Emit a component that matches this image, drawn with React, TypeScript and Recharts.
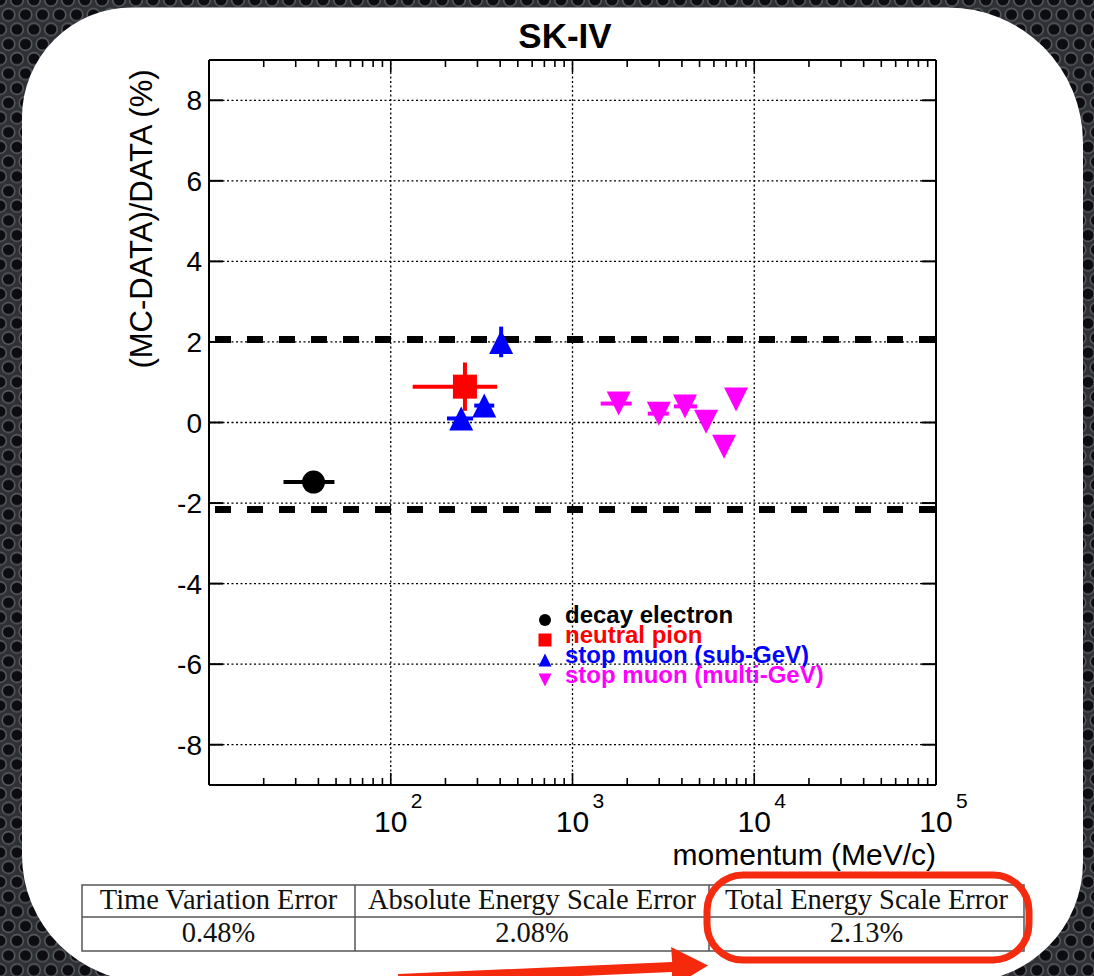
import React from "react";
import {
  ScatterChart,
  Scatter,
  XAxis,
  YAxis,
  ReferenceLine,
  ErrorBar,
  Legend,
  Label,
} from "recharts";

// ---------- data ----------
const decayElectron = [{ p: 37.6, d: -1.48, pErr: [11.9, 11.4], dErr: 0.05 }];
const neutralPion = [{ p: 256, d: 0.89, pErr: [124, 129], dErr: 0.6 }];
const stopMuonSub = [
  { p: 244, d: 0.1, pErr: [40, 40], dErr: 0.1 },
  { p: 327, d: 0.42, pErr: [39, 44], dErr: 0.15 },
  { p: 405, d: 2.0, pErr: [20, 20], dErr: 0.38 },
];
const stopMuonMulti = [
  { p: 1795, d: 0.47, pErr: [366, 323], dErr: 0.1 },
  { p: 2985, d: 0.22, pErr: [391, 403], dErr: 0.1 },
  { p: 4160, d: 0.4, pErr: [546, 682], dErr: 0.1 },
  { p: 5430, d: 0.02, pErr: [300, 300], dErr: 0.1 },
  { p: 6820, d: -0.6, pErr: [350, 350], dErr: 0.15 },
  { p: 7940, d: 0.57, pErr: [350, 350], dErr: 0.1 },
];
const seriesNames = ["decay electron", "neutral pion", "stop muon (sub-GeV)", "stop muon (multi-GeV)"];
const scaleErrorLines = [2.06, -2.16];
const yTicks = [-8, -6, -4, -2, 0, 2, 4, 6, 8];
const xDecades = [10, 100, 1000, 10000, 100000];
const xGridLines = [100, 1000, 10000];
const tableHeaders = ["Time Variation Error", "Absolute Energy Scale Error", "Total Energy Scale Error"];
const tableValues = ["0.48%", "2.08%", "2.13%"];

const xTicks: number[] = [];
xDecades.forEach((d, i) => {
  xTicks.push(d);
  if (i < xDecades.length - 1) for (let m = 2; m <= 9; m++) xTicks.push(d * m);
});

const SANS = "'Liberation Sans', Arial, Helvetica, sans-serif";
const SERIF = "'Liberation Serif', 'Times New Roman', serif";

// ---------- markers ----------
type Kind = "circle" | "square" | "up" | "down";
function marker(kind: Kind, cx: number, cy: number, s: number, color: string) {
  const h = s / 2;
  if (kind === "circle") return <circle cx={cx} cy={cy} r={h} fill={color} />;
  if (kind === "square") return <rect x={cx - h} y={cy - h} width={s} height={s} fill={color} />;
  if (kind === "up")
    return <polygon points={`${cx - h},${cy + h} ${cx + h},${cy + h} ${cx},${cy - h}`} fill={color} />;
  return <polygon points={`${cx - h},${cy - h} ${cx + h},${cy - h} ${cx},${cy + h}`} fill={color} />;
}
const seriesStyle: Record<string, { kind: Kind; color: string; size: number }> = {
  "decay electron": { kind: "circle", color: "#000000", size: 23 },
  "neutral pion": { kind: "square", color: "#ff0000", size: 24 },
  "stop muon (sub-GeV)": { kind: "up", color: "#0000ff", size: 24 },
  "stop muon (multi-GeV)": { kind: "down", color: "#ff00ff", size: 24 },
};
const shapeFor = (name: string) => (props: any) => {
  const st = seriesStyle[name];
  return marker(st.kind, props.cx, props.cy, st.size, st.color);
};

// ---------- ticks ----------
const isDecade = (v: number) => Math.abs(Math.log10(v) - Math.round(Math.log10(v))) < 1e-6;

const BottomTick = (props: any) => {
  const { x, y, payload } = props;
  const v = payload.value;
  const major = isDecade(v);
  const exp = Math.round(Math.log10(v));
  return (
    <g>
      <line x1={x} x2={x} y1={y} y2={y - (major ? 12 : 7)} stroke="#000" strokeWidth={1.6} />
      {major && exp > 1 && (
        <g fontFamily={SANS} fill="#000">
          <text x={x} y={y + 47} textAnchor="middle" fontSize={30}>10</text>
          <text x={x + 20} y={y + 23} textAnchor="start" fontSize={21}>{exp}</text>
        </g>
      )}
    </g>
  );
};
const TopTick = (props: any) => {
  const { x, y, payload } = props;
  const major = isDecade(payload.value);
  return <line x1={x} x2={x} y1={y} y2={y + (major ? 12 : 7)} stroke="#000" strokeWidth={1.6} />;
};
const LeftTick = (props: any) => {
  const { x, y, payload } = props;
  return (
    <g>
      <line x1={x} x2={x + 14} y1={y} y2={y} stroke="#000" strokeWidth={2} />
      <text x={x - 7} y={y + 10} textAnchor="end" fontSize={28} fontFamily={SANS} fill="#000">
        {String(payload.value)}
      </text>
    </g>
  );
};
const RightTick = (props: any) => {
  const { x, y } = props;
  return <line x1={x} x2={x - 14} y1={y} y2={y} stroke="#000" strokeWidth={2} />;
};

// ---------- legend ----------
const LegendContent = (props: any) => {
  const payload = props.payload || [];
  const ordered = seriesNames
    .map((n) => payload.find((it: any) => it.value === n))
    .filter(Boolean);
  return (
    <svg width={330} height={95} style={{ overflow: "visible", display: "block" }}>
      {ordered.map((item: any, i: number) => {
        const st = seriesStyle[item.value];
        const base = 23 + i * 20;
        return (
          <g key={item.value}>
            {marker(st.kind, 25, base - 3, st.kind === "circle" ? 12 : 13, st.color)}
            <text x={45} y={base} fontFamily={SANS} fontWeight="bold" fontSize={24} fill={st.color}>
              {item.value}
            </text>
          </g>
        );
      })}
    </svg>
  );
};

// ---------- background ----------
const L = 22, T = 7.5, R = 1083, B = 982;
const rTL = 110, rTR = 135, rBR = 120, rBL = 127;
const framePath = `M ${L + rTL} ${T} H ${R - rTR} A ${rTR} ${rTR} 0 0 1 ${R} ${T + rTR} V ${B - rBR} A ${rBR} ${rBR} 0 0 1 ${R - rBR} ${B} H ${L + rBL} A ${rBL} ${rBL} 0 0 1 ${L} ${B - rBL} V ${T + rTL} A ${rTL} ${rTL} 0 0 1 ${L + rTL} ${T} Z`;

const tableCols = [82, 355, 709, 1024];
const tableRows = [885, 917, 951];

export default function App() {
  const axisLine = { stroke: "#000", strokeWidth: 2 };
  return (
    <div style={{ position: "absolute", left: 0, top: 0, width: 1094, height: 976, overflow: "hidden" }}>
      <svg width={1094} height={976} style={{ position: "absolute", left: 0, top: 0 }}>
        <defs>
          <pattern id="holes" width={17} height={29.4} patternUnits="userSpaceOnUse">
            <rect width={17} height={29.4} fill="#2e3034" />
            {[
              [0, 0], [17, 0], [0, 29.4], [17, 29.4], [8.5, 14.7],
            ].map(([cx, cy], i) => (
              <circle key={i} cx={cx} cy={cy} r={6.3} fill="#0d0d11" stroke="#55585f" strokeWidth={1.6} />
            ))}
          </pattern>
        </defs>
        <rect width={1094} height={976} fill="url(#holes)" />
        <path d={framePath} fill="#ffffff" />
      </svg>

      <div style={{ position: "absolute", left: 0, top: 0 }}>
        <ScatterChart width={1094} height={880} margin={{ top: 59, right: 157, bottom: 94, left: 208 }}>
          <XAxis
            xAxisId="b"
            dataKey="p"
            type="number"
            scale="log"
            domain={[10, 100000]}
            allowDataOverflow
            ticks={xTicks}
            interval={0}
            height={1}
            tickSize={0}
            tickMargin={0}
            tickLine={false}
            axisLine={axisLine}
            tick={(p: any) => <BottomTick {...p} />}
          >
            <Label
              content={(p: any) => {
                const vb = p.viewBox || {};
                return (
                  <text x={vb.x + vb.width} y={vb.y + 80} textAnchor="end" fontSize={30} fontFamily={SANS} fill="#000">
                    momentum (MeV/c)
                  </text>
                );
              }}
            />
          </XAxis>
          <XAxis
            xAxisId="t"
            orientation="top"
            dataKey="p"
            type="number"
            scale="log"
            domain={[10, 100000]}
            allowDataOverflow
            ticks={xTicks}
            interval={0}
            height={1}
            tickSize={0}
            tickMargin={0}
            tickLine={false}
            axisLine={axisLine}
            tick={(p: any) => <TopTick {...p} />}
          />
          <YAxis
            yAxisId="l"
            dataKey="d"
            type="number"
            domain={[-9, 9]}
            allowDataOverflow
            ticks={yTicks}
            interval={0}
            width={1}
            tickSize={0}
            tickMargin={0}
            tickLine={false}
            axisLine={axisLine}
            tick={(p: any) => <LeftTick {...p} />}
          >
            <Label
              content={(p: any) => {
                const vb = p.viewBox || {};
                const cx = vb.x + vb.width - 57;
                const cy = vb.y + 159;
                return (
                  <text
                    x={cx}
                    y={cy}
                    transform={`rotate(-90, ${cx}, ${cy})`}
                    textAnchor="middle"
                    fontSize={31}
                    fontFamily={SANS}
                    fill="#000"
                  >
                    (MC-DATA)/DATA (%)
                  </text>
                );
              }}
            />
          </YAxis>
          <YAxis
            yAxisId="r"
            orientation="right"
            dataKey="d"
            type="number"
            domain={[-9, 9]}
            allowDataOverflow
            ticks={yTicks}
            interval={0}
            width={1}
            tickSize={0}
            tickMargin={0}
            tickLine={false}
            axisLine={axisLine}
            tick={(p: any) => <RightTick {...p} />}
          />

          {yTicks.map((v) => (
            <ReferenceLine
              key={"gy" + v}
              xAxisId="b"
              yAxisId="l"
              y={v}
              stroke="#000"
              strokeWidth={1.3}
              strokeDasharray="2 2.5"
            />
          ))}
          {xGridLines.map((v) => (
            <ReferenceLine
              key={"gx" + v}
              xAxisId="b"
              yAxisId="l"
              x={v}
              stroke="#000"
              strokeWidth={1.3}
              strokeDasharray="2 2.5"
            />
          ))}
          {scaleErrorLines.map((v) => (
            <ReferenceLine
              key={"se" + v}
              xAxisId="b"
              yAxisId="l"
              y={v}
              stroke="#000"
              strokeWidth={7}
              strokeDasharray="16 16"
              strokeDashoffset={-6}
            />
          ))}

          <Scatter
            name="decay electron"
            data={decayElectron}
            xAxisId="b"
            yAxisId="l"
            fill="#000000"
            isAnimationActive={false}
            shape={shapeFor("decay electron")}
          >
            <ErrorBar dataKey="pErr" direction="x" width={0} stroke="#000000" strokeWidth={4} isAnimationActive={false} />
            <ErrorBar dataKey="dErr" direction="y" width={0} stroke="#000000" strokeWidth={4} isAnimationActive={false} />
          </Scatter>
          <Scatter
            name="neutral pion"
            data={neutralPion}
            xAxisId="b"
            yAxisId="l"
            fill="#ff0000"
            isAnimationActive={false}
            shape={shapeFor("neutral pion")}
          >
            <ErrorBar dataKey="pErr" direction="x" width={0} stroke="#ff0000" strokeWidth={4} isAnimationActive={false} />
            <ErrorBar dataKey="dErr" direction="y" width={0} stroke="#ff0000" strokeWidth={4} isAnimationActive={false} />
          </Scatter>
          <Scatter
            name="stop muon (sub-GeV)"
            data={stopMuonSub}
            xAxisId="b"
            yAxisId="l"
            fill="#0000ff"
            isAnimationActive={false}
            shape={shapeFor("stop muon (sub-GeV)")}
          >
            <ErrorBar dataKey="pErr" direction="x" width={0} stroke="#0000ff" strokeWidth={4} isAnimationActive={false} />
            <ErrorBar dataKey="dErr" direction="y" width={0} stroke="#0000ff" strokeWidth={4} isAnimationActive={false} />
          </Scatter>
          <Scatter
            name="stop muon (multi-GeV)"
            data={stopMuonMulti}
            xAxisId="b"
            yAxisId="l"
            fill="#ff00ff"
            isAnimationActive={false}
            shape={shapeFor("stop muon (multi-GeV)")}
          >
            <ErrorBar dataKey="pErr" direction="x" width={0} stroke="#ff00ff" strokeWidth={4} isAnimationActive={false} />
            <ErrorBar dataKey="dErr" direction="y" width={0} stroke="#ff00ff" strokeWidth={4} isAnimationActive={false} />
          </Scatter>

          <Legend
            layout="vertical"
            align="center"
            verticalAlign="middle"
            content={(p: any) => <LegendContent {...p} />}
            wrapperStyle={{ position: "absolute", left: 520, top: 600, width: 330, height: 95 }}
          />
        </ScatterChart>
      </div>

      <svg width={1094} height={976} style={{ position: "absolute", left: 0, top: 0, pointerEvents: "none" }}>
        <text x={565} y={48} textAnchor="middle" fontFamily={SANS} fontWeight="bold" fontSize={35} fill="#000">
          SK-IV
        </text>

        <g stroke="#555" strokeWidth={1.5} fill="none">
          <rect x={tableCols[0]} y={tableRows[0]} width={tableCols[3] - tableCols[0]} height={tableRows[2] - tableRows[0]} />
          <line x1={tableCols[0]} x2={tableCols[3]} y1={tableRows[1]} y2={tableRows[1]} />
          <line x1={tableCols[1]} x2={tableCols[1]} y1={tableRows[0]} y2={tableRows[2]} />
          <line x1={tableCols[2]} x2={tableCols[2]} y1={tableRows[0]} y2={tableRows[2]} />
        </g>
        {tableHeaders.map((h, i) => (
          <text
            key={h}
            x={(tableCols[i] + tableCols[i + 1]) / 2}
            y={909}
            textAnchor="middle"
            fontFamily={SERIF}
            fontSize={28.5}
            fill="#111"
          >
            {h}
          </text>
        ))}
        {tableValues.map((v, i) => (
          <text
            key={v + i}
            x={(tableCols[i] + tableCols[i + 1]) / 2}
            y={942}
            textAnchor="middle"
            fontFamily={SERIF}
            fontSize={28.5}
            fill="#111"
          >
            {v}
          </text>
        ))}

        <rect x={707} y={875} width={322} height={85} rx={36} ry={36} fill="none" stroke="#f42b0f" strokeWidth={7} />
        <polygon
          points="398.2,974 672.2,962 671.1,947 708,965.4 672.9,987 671.8,972 397.8,984"
          fill="#f5290c"
        />
      </svg>
    </div>
  );
}
